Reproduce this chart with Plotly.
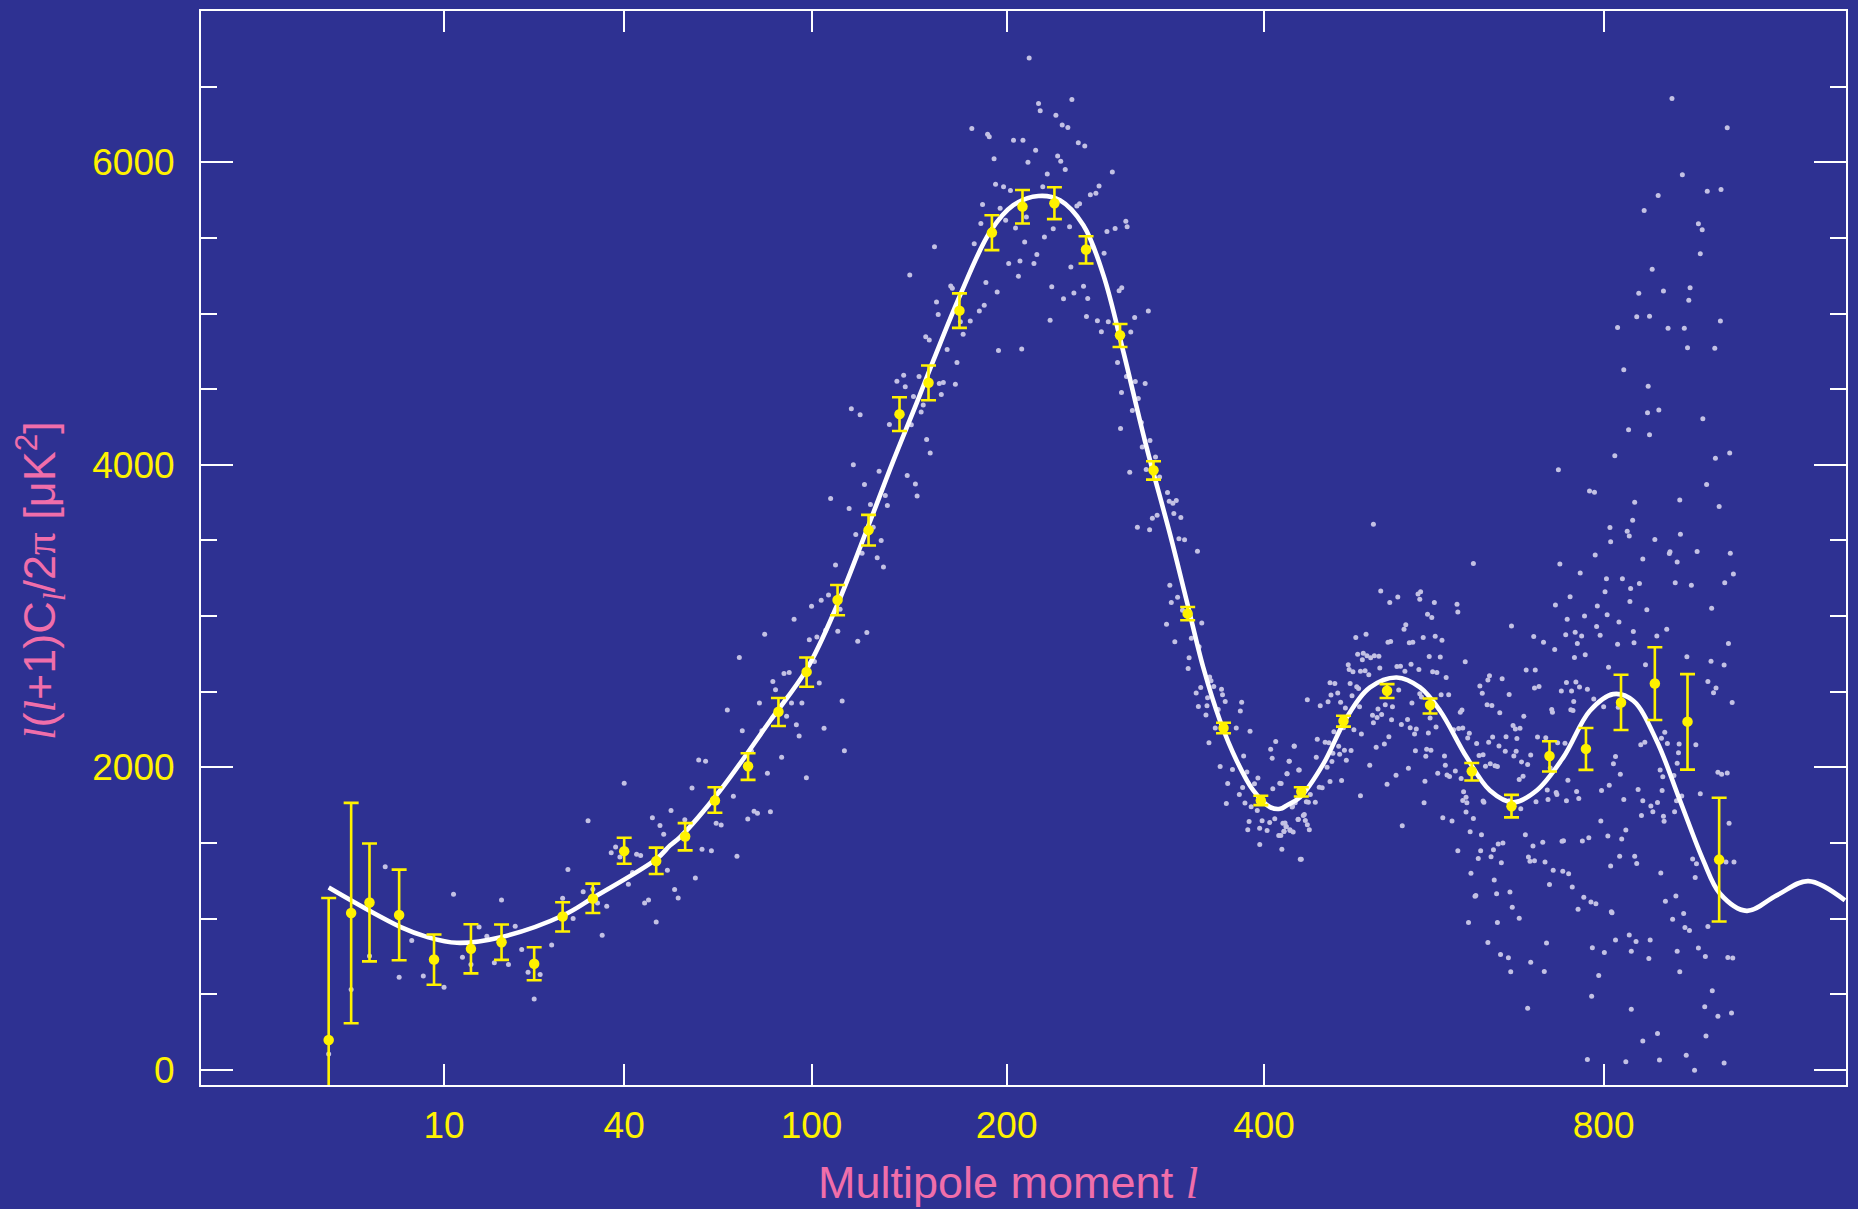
import numpy as np
import plotly.graph_objects as go

# ---------------- data ----------------
# binned measurements (multipole l, value, upper bound, lower bound)  [uK^2]
bin_l = [2, 3, 4, 6, 9, 13, 17, 22, 27, 33, 40, 48, 56, 65, 76, 87, 98, 111, 125, 140,
         155, 172, 191, 210, 231, 253, 278, 304, 332, 363, 397, 436, 479, 526, 575, 625,
         675, 725, 775, 825, 875, 925, 975]
bin_v = [198, 1037, 1106, 1024, 730, 800, 844, 701, 1014, 1132, 1446, 1380, 1543, 1781, 2007,
         2368, 2631, 3106, 3568, 4335, 4542, 5019, 5535, 5707, 5729, 5423, 4856, 3964, 3016,
         2260, 1781, 1840, 2306, 2506, 2412, 1974, 1743, 2075, 2122, 2429, 2554, 2302, 1390]
bin_hi = [1136, 1765, 1497, 1324, 895, 963, 961, 811, 1108, 1231, 1535, 1469, 1631, 1868, 2093,
          2458, 2726, 3205, 3669, 4447, 4656, 5133, 5650, 5817, 5835, 5511, 4931, 4023, 3060,
          2295, 1812, 1868, 2341, 2550, 2455, 2029, 1818, 2172, 2260, 2612, 2794, 2616, 1799]
bin_lo = [-400, 308, 717, 725, 563, 638, 727, 592, 915, 1037, 1363, 1295, 1451, 1700, 1917,
          2273, 2533, 3005, 3467, 4223, 4427, 4905, 5419, 5595, 5624, 5331, 4779, 3902, 2972,
          2225, 1750, 1807, 2269, 2458, 2356, 1913, 1669, 1972, 1983, 2247, 2313, 1985, 981]

# best-fit model curve
model_l = [2, 6.08, 8.32, 11.37, 17.05, 27.15, 33.12, 48.17, 51.75, 54.55, 66.66, 83.89, 98.07,
           110.67, 125.73, 136.8, 148.8, 157.6, 172.4, 189.9, 204.2, 220.3, 234.8, 251.1, 265.6,
           280.5, 297.3, 317.4, 331.2, 345.3, 359.9, 374.8, 390.0, 405.7, 415.3, 421.7, 434.7,
           458.2, 482.4, 507.3, 536.8, 563.3, 586.7, 618.8, 647.6, 677.3, 707.9, 743.7, 780.6,
           813.8, 842.9, 877.7, 913.3, 949.7, 976.3, 1019.8, 1070, 1124.4, 1189.7]
model_v = [1205, 945, 879, 840, 879, 1022, 1139, 1396, 1484, 1539, 1847, 2308, 2649, 3067, 3627,
           4023, 4410, 4690, 5122, 5540, 5716, 5777, 5749, 5584, 5254, 4748, 4155, 3540, 3100,
           2660, 2308, 2044, 1847, 1737, 1726, 1748, 1802, 2023, 2330, 2528, 2594, 2528, 2374,
           2066, 1847, 1769, 1847, 2066, 2374, 2484, 2440, 2176, 1781, 1385, 1165, 1051, 1154,
           1248, 1121]

# unbinned measurements (l, value)
dots_low = [(2, 105), (3, 532), (4, 752), (5, 1343), (6, 613), (7, 855), (8, 620), (10, 547),
            (11, 1161), (12, 745), (13, 697), (14, 945), (15, 884), (16, 708), (17, 1123), (18, 697),
            (19, 950), (20, 796), (21, 646), (22, 468), (23, 631), (25, 826), (27, 1134), (28, 1324),
            (29, 1000), (31, 1178), (32, 1647), (33, 1194), (34, 1103), (35, 890), (36, 1082),
            (37, 1436), (38, 1473), (39, 1407), (40, 1895), (41, 1227), (42, 1304), (43, 1425),
            (44, 1418), (45, 1103), (46, 1123), (47, 1667), (48, 978), (49, 1616), (50, 1557),
            (51, 1319), (52, 1715), (53, 1192), (54, 1136), (59, 1268)]
dots_rise = [(55.9, 1653), (58.0, 1864), (60.0, 2049), (62.1, 2040), (61.0, 1459), (63.9, 1449),
             (65.4, 1631), (67.0, 1618), (69.0, 2379), (71.0, 1809), (72.2, 1413), (73.0, 2726),
             (74.0, 2242), (75.9, 1659), (77.2, 2106), (78.1, 1710), (79.3, 1697), (80.0, 2425),
             (80.9, 2242), (81.9, 2880), (82.9, 1961), (84.0, 1706), (84.9, 2567), (85.9, 2513),
             (88.2, 2066), (89.1, 2620), (90.1, 2337), (91.1, 2627), (92.0, 2425), (93.0, 2979),
             (93.9, 2282), (95.0, 2207), (96.1, 2425), (97.9, 1931), (99.1, 2844), (100.0, 3065),
             (101.2, 2699), (102.2, 2862), (103.2, 2557), (104.0, 3104), (105.2, 2258), (105.9, 2907),
             (107.1, 3139), (108.0, 3777), (110.1, 3337), (111.1, 2900), (112.1, 3045), (113.0, 2438),
             (114.0, 2110), (116.1, 3711), (117.1, 4370), (118.0, 4001), (119.1, 3540), (120.0, 2834),
             (121.1, 4331), (122.0, 3415), (123.1, 3869), (124.2, 2891), (125.9, 3738), (127.2, 3588),
             (129.1, 3385), (130.0, 3957), (131.0, 3500), (132.1, 3324), (133.0, 3797), (134.0, 3731),
             (135.0, 4267), (138.7, 4553), (142.1, 4592), (142.9, 4516), (143.9, 3929), (146.0, 4265),
             (147.1, 4452), (148.1, 3873), (149.0, 3794), (150.0, 4584), (151.1, 4349), (152.2, 4395),
             (154.0, 4168), (155.9, 4078), (160.8, 4537), (161.9, 4465), (163.0, 4544), (169.7, 4533),
             (170.6, 4676)]
dots_peak = [(145.2, 5255), (153.5, 4847), (155.4, 4825), (158.2, 5441), (159.3, 5076), (160.2, 4993),
             (165.1, 4762), (167.1, 5182), (168.0, 5167), (172.5, 4946), (174.1, 4863), (178.2, 4951),
             (179.1, 6224), (180.5, 5462), (183.5, 5017), (184.4, 5595), (185.4, 5720), (186.4, 5054),
             (187.4, 5205), (188.4, 6185), (189.4, 6169), (192.3, 6024), (193.2, 5854), (194.2, 5142),
             (195.0, 4755), (196.0, 5696), (198.1, 5838), (199.4, 5617), (201.3, 5331), (202.4, 5814),
             (204.3, 6145), (205.6, 5566), (207.4, 5247), (208.4, 5348), (209.5, 4766), (210.3, 6145),
             (211.4, 5473), (212.5, 5639), (213.5, 6000), (214.3, 6690), (217.4, 5331), (218.5, 6080),
             (219.3, 5390), (220.4, 6389), (221.5, 6340), (223.2, 5838), (224.3, 5506), (226.2, 5922),
             (228.1, 4955), (229.2, 5177), (230.2, 5560), (232.0, 6310), (233.2, 6042), (235.3, 6007),
             (236.3, 6247), (237.2, 5098), (238.4, 5952), (240.2, 6230), (241.4, 5573), (242.3, 5307),
             (243.0, 6415), (244.4, 5135), (246.5, 5711), (247.5, 6129), (248.4, 5725), (251.2, 5180),
             (252.1, 6107), (253.3, 4981), (254.2, 5100), (256.1, 5786), (257.3, 5441), (260.1, 5795),
             (261.2, 4953), (262.4, 5843), (264.1, 4880), (266.1, 5398), (268.2, 5542), (269.2, 4946),
             (272.2, 5936), (274.3, 5562), (277.3, 5150), (279.3, 5170), (282.4, 5610), (283.4, 5573),
             (286.2, 4878), (289.2, 4973), (299.9, 5017), (276.1, 4676), (282.9, 4584), (289.7, 4551),
             (297.4, 4538), (279.1, 4478), (292.0, 4438), (287.4, 4359), (294.4, 4280), (278.4, 4240),
             (301.2, 4161)]
dots_fall = [(295.1, 4118), (305.6, 4052), (285.4, 3951), (298.2, 3969), (308.9, 3920), (315.3, 3817),
             (316.7, 3759), (319.7, 3746), (322.5, 3764), (320.5, 3678), (326.3, 3652), (306.9, 3667),
             (303.1, 3647), (291.3, 3588), (300.9, 3570), (324.7, 3511), (329.4, 3504), (340.3, 3428),
             (317.2, 3203), (323.6, 3124), (318.4, 3089), (327.7, 3038), (314.5, 2946), (344.0, 2955),
             (321.3, 2830), (335.1, 2854), (333.2, 2724), (332.4, 2653), (341.7, 2798), (350.8, 2598),
             (352.0, 2572), (343.1, 2528), (354.4, 2535), (339.2, 2491), (349.0, 2460), (361.2, 2517),
             (362.1, 2480), (364.5, 2436), (341.1, 2403), (348.5, 2407), (358.3, 2383), (347.6, 2346),
             (379.3, 2431), (378.1, 2372), (355.7, 2260), (374.4, 2260), (387.0, 2238), (350.2, 2163),
             (381.1, 2075), (360.0, 2005), (371.0, 1985), (384.1, 1970), (394.3, 1930), (366.7, 1893),
             (380.2, 1866), (391.1, 1891), (377.2, 1820), (382.3, 1765), (365.5, 1761), (388.0, 1739),
             (393.7, 1715), (386.1, 1642), (384.9, 1587), (398.2, 1647), (395.9, 1598), (402.9, 1583),
             (405.4, 1636), (410.2, 1660), (408.3, 1858), (406.3, 2119), (411.1, 2170), (407.7, 2060),
             (416.3, 1893), (424.2, 2040), (429.0, 2141), (422.0, 1957), (420.1, 1632), (421.3, 1609),
             (414.0, 1550), (419.1, 1578), (424.8, 1587), (427.3, 1743), (432.8, 1655), (433.4, 1983),
             (435, 1392), (396, 1490)]
dots_high = [(529, 3089), (580, 3089), (607, 3078), (733, 3074), (791, 3067), (838, 3096), (863, 3041),
             (963, 3052), (608, 3027), (572, 3012), (577, 2990), (773, 3001), (805, 3008), (749, 2979),
             (822, 2961), (547, 2942), (545, 2913), (675, 2935), (790, 2931), (893, 2913), (843, 2898),
             (990, 2818), (503, 2880), (492, 2858), (581, 2867), (589, 2840), (567, 2858), (527, 2827),
             (530, 2832), (551, 2823), (555, 2827), (704, 2865), (747, 2876), (760, 2893), (769, 2869),
             (795, 2873), (878, 2869), (717, 2827), (763, 2818), (820, 2814), (844, 2823), (732, 2779),
             (494, 2748), (500, 2755), (504, 2737), (512, 2737), (508, 2724), (499, 2711), (517, 2735),
             (574, 2733), (587, 2730), (617, 2698), (759, 2726), (774, 2744), (861, 2678), (924, 2731),
             (962, 2702), (983, 2676), (484, 2678), (485, 2647), (489, 2632), (497, 2636), (502, 2638),
             (506, 2612), (518, 2656), (541, 2669), (537, 2667), (553, 2682), (546, 2636), (562, 2647),
             (578, 2632), (583, 2627), (594, 2594), (694, 2643), (706, 2643), (807, 2662), (647, 2605),
             (645, 2577), (663, 2586), (748, 2561), (761, 2564), (766, 2531), (957, 2568), (970, 2524),
             (996, 2429), (465, 2559), (470, 2555), (486, 2555), (493, 2533), (495, 2522), (473, 2491),
             (466, 2478), (488, 2473), (455, 2407), (463, 2434), (476, 2430), (481, 2392), (496, 2401),
             (442, 2447), (516, 2385), (524, 2414), (532, 2401), (539, 2511), (563, 2487), (565, 2465),
             (554, 2425), (588, 2480), (597, 2480), (635, 2537), (638, 2489), (672, 2482), (705, 2524),
             (711, 2535), (741, 2504), (755, 2504), (777, 2517), (758, 2436), (786, 2451), (800, 2401),
             (821, 2397), (757, 2375), (644, 2414), (650, 2408), (660, 2361), (613, 2379), (611, 2364),
             (691, 2337), (728, 2383), (729, 2364), (754, 2381), (515, 2330), (510, 2344), (520, 2350),
             (531, 2315), (511, 2295), (542, 2284), (549, 2317), (559, 2254), (575, 2326), (582, 2267),
             (609, 2256), (614, 2260), (552, 2262), (557, 2220), (498, 2220), (490, 2249), (479, 2262),
             (469, 2236), (452, 2185), (460, 2166), (464, 2163), (429, 2139), (474, 2139), (480, 2113),
             (487, 2111), (468, 2093), (475, 2087), (528, 2203), (514, 2133), (523, 2155), (573, 2227),
             (571, 2120), (576, 2113), (570, 2073), (558, 2109), (603, 2249), (622, 2225), (631, 2157),
             (639, 2084), (634, 2078), (620, 2194), (659, 2141), (667, 2106), (646, 2166), (651, 2201),
             (668, 2203), (677, 2276), (680, 2254), (686, 2258), (682, 2190), (681, 2106), (678, 2075),
             (700, 2082), (709, 2201), (720, 2196), (736, 2163), (746, 2159), (726, 1996), (688, 2036),
             (696, 2018), (690, 1941), (685, 1919), (642, 2007), (648, 2023), (654, 2010), (657, 2005),
             (451, 2067), (424, 2040), (434, 1983), (422, 1957), (462, 2000), (467, 2038), (482, 2047),
             (507, 2014), (550, 1994), (584, 1961), (593, 2014), (595, 1950), (598, 1939), (605, 1975),
             (612, 1926), (592, 2075), (615, 1838), (618, 1803), (619, 1766), (526, 1889), (536, 1948),
             (569, 1908), (477, 1913), (465, 1906), (454, 1869), (457, 1865), (445, 1821), (443, 1770),
             (450, 1770), (441, 1772), (427, 1737), (415, 1895), (430, 1766), (497, 1812), (568, 1766),
             (590, 1667), (601, 1645), (618, 1704), (627, 1662), (614, 1781), (640, 1770), (639, 1777),
             (672, 1779), (687, 1726), (707, 1772), (722, 1851), (735, 1821), (734, 1834), (748, 1779),
             (723, 1788), (762, 1840), (765, 1794), (750, 1915), (808, 1882), (797, 1847), (829, 1788),
             (850, 1854), (857, 1779), (869, 1744), (879, 1768), (872, 1706), (886, 1847), (888, 1676),
             (889, 1643), (855, 1682), (908, 1779), (916, 1810), (905, 1706), (945, 1825), (814, 2023),
             (824, 1955), (817, 2071), (854, 2150), (860, 2166), (885, 2192), (894, 2157), (890, 2232),
             (911, 2097), (909, 2027), (904, 1946), (883, 1983), (887, 1937), (912, 2155), (938, 2150),
             (979, 1955), (988, 1963), (966, 2493), (973, 1968), (796, 1645), (832, 1585), (826, 1526),
             (806, 1546), (770, 1513), (779, 1535), (742, 1511), (744, 1515), (703, 1480), (716, 1504),
             (693, 1555), (664, 1500), (658, 1493), (652, 1456), (636, 1449), (608, 1449), (633, 1398),
             (649, 1409), (697, 1407), (699, 1379), (705, 1383), (719, 1374), (662, 1370), (624, 1300),
             (653, 1256), (673, 1176), (656, 1165), (630, 1152), (629, 1148), (676, 1075), (685, 1003),
             (657, 974), (621, 974), (645, 842), (661, 763), (671, 741), (721, 838), (725, 1225),
             (730, 1319), (743, 1313), (751, 1297), (756, 1209), (772, 1141), (782, 1110), (789, 1099),
             (764, 1062), (811, 1045), (812, 1038), (823, 1412), (845, 1412), (848, 1365), (810, 1348),
             (884, 1302), (933, 1394), (939, 1363), (937, 1271), (891, 1115), (907, 1150), (902, 996),
             (919, 1034), (921, 941), (928, 921), (957, 948), (986, 1374), (991, 1631), (999, 1374),
             (817, 858), (847, 849), (840, 785), (909, 785), (784, 807), (801, 776), (868, 858),
             (837, 891), (997, 739), (866, 737), (989, 743), (953, 750), (942, 805), (543, 1614),
             (623, 1574), (637, 1555), (418, 1631), (421, 1607), (419, 1576), (425, 1583), (428, 1572),
             (433, 1656), (438, 1682), (440, 1649), (444, 1587), (442, 1620), (417, 1458), (436, 1392),
             (439, 1689), (416, 1550), (511, 3607), (519, 3166), (538, 3126), (561, 3146)]
dots_low_tail = [(700, 712), (674, 649), (718, 651), (793, 624), (913, 649), (964, 523), (952, 418),
                 (973, 354), (995, 376), (783, 486), (696, 407), (840, 400), (879, 240), (857, 191),
                 (954, 224), (777, 68), (832, 53), (882, 66), (923, 97), (936, -2), (983, 46)]
dots_upper = [(925, 4774), (968, 4770), (829, 4629), (865, 4520), (864, 4344), (881, 4363), (949, 4304),
              (836, 4232), (867, 4199), (816, 4060), (969, 4043), (992, 4078), (737, 3968), (780, 3827),
              (787, 3818), (955, 3869), (845, 3752), (913, 3768), (975, 3724), (842, 3634), (809, 3585),
              (834, 3561), (837, 3530), (914, 3541), (810, 3491), (875, 3506), (788, 3403), (898, 3425),
              (897, 3414), (940, 3427), (993, 3416), (857, 3377), (909, 3357), (627, 3348), (739, 3344),
              (998, 3278), (767, 3284), (804, 3247), (827, 3247), (852, 3216), (906, 3221), (931, 3203),
              (984, 3221), (839, 3183), (802, 3161), (753, 3128), (564, 3161), (563, 3111),
              (901, 6422), (988, 6228), (917, 5918), (880, 5780), (956, 5809), (978, 5820), (859, 5681),
              (942, 5593), (948, 5554), (945, 5395), (871, 5292), (851, 5134), (888, 5149), (929, 5171),
              (927, 5088), (848, 4978), (867, 4982), (820, 4907), (895, 4903), (920, 4903), (977, 4951)]

x_tick_l = [10, 40, 100, 200, 400, 800]
x_range_l = [0, 1191.6]
y_range = [-100, 7000]

# ---------------- styling ----------------
BG = "#2E3192"
YEL = "#FFF200"
PINK = "#F06EAA"
DOTC = "#C3C1E4"
FONT = "Liberation Sans, Arial, Helvetica, sans-serif"
P = 0.4  # axis scale: position ~ l**0.4


def xs(l):
    return np.power(np.asarray(l, dtype=float), P)


all_dots = dots_low + dots_rise + dots_peak + dots_fall + dots_high + dots_low_tail + dots_upper
dot_l = [d[0] for d in all_dots]
dot_v = [d[1] for d in all_dots]

bv = np.array(bin_v, float)
err_plus = np.array(bin_hi, float) - bv
err_minus = bv - np.array(bin_lo, float)

fig = go.Figure()
fig.add_trace(go.Scatter(x=xs(dot_l), y=dot_v, mode="markers",
                         marker=dict(size=5, color=DOTC, line=dict(width=0)),
                         hoverinfo="skip", showlegend=False))
fig.add_trace(go.Scatter(x=xs(model_l), y=model_v, mode="lines",
                         line=dict(color="white", width=4.6, shape="spline", smoothing=1.0),
                         hoverinfo="skip", showlegend=False))
fig.add_trace(go.Scatter(x=xs(bin_l), y=bin_v, mode="markers",
                         marker=dict(size=10.5, color=YEL, line=dict(width=0)),
                         error_y=dict(type="data", symmetric=False, array=err_plus,
                                      arrayminus=err_minus, color=YEL, thickness=2.6, width=7.5),
                         hoverinfo="skip", showlegend=False))

L = "<i><span style='font-family:Liberation Serif'>l</span></i>"
PI = "<span style='font-family:Liberation Serif'>π</span>"
ytitle = f"{L}({L}+1)C<sub>{L}</sub>/2{PI} [μK<sup>2</sup>]"
xtitle = f"Multipole moment {L}"

fig.update_layout(
    width=1858, height=1209,
    margin=dict(l=201, r=12, t=9, b=124),
    paper_bgcolor=BG, plot_bgcolor=BG,
    showlegend=False,
    xaxis=dict(range=list(xs(x_range_l)), tickmode="array", tickvals=list(xs(x_tick_l)),
               ticktext=[str(v) for v in x_tick_l], ticks="inside", ticklen=21, tickwidth=2,
               tickcolor="white", showline=True, linecolor="white", linewidth=2, mirror="ticks",
               showgrid=False, zeroline=False, ticklabelstandoff=7,
               tickfont=dict(family=FONT, size=37, color=YEL)),
    yaxis=dict(range=y_range, tickmode="linear", tick0=0, dtick=2000, ticks="inside", ticklen=32,
               tickwidth=2, tickcolor="white", showline=True, linecolor="white", linewidth=2,
               mirror="ticks", showgrid=False, zeroline=False, ticklabelstandoff=17,
               tickfont=dict(family=FONT, size=37, color=YEL),
               minor=dict(dtick=500, tick0=0, ticks="inside", ticklen=16, tickwidth=2,
                          tickcolor="white", showgrid=False)),
    annotations=[
        dict(text=xtitle, xref="paper", yref="paper", x=0.4906, y=-0.091, xanchor="center",
             yanchor="middle", showarrow=False, font=dict(family=FONT, size=45, color=PINK)),
        dict(text=ytitle, xref="paper", yref="paper", x=-0.098, y=0.47, xanchor="center",
             yanchor="middle", textangle=-90, showarrow=False,
             font=dict(family=FONT, size=45, color=PINK)),
    ],
)

fig.write_html("out.html")
